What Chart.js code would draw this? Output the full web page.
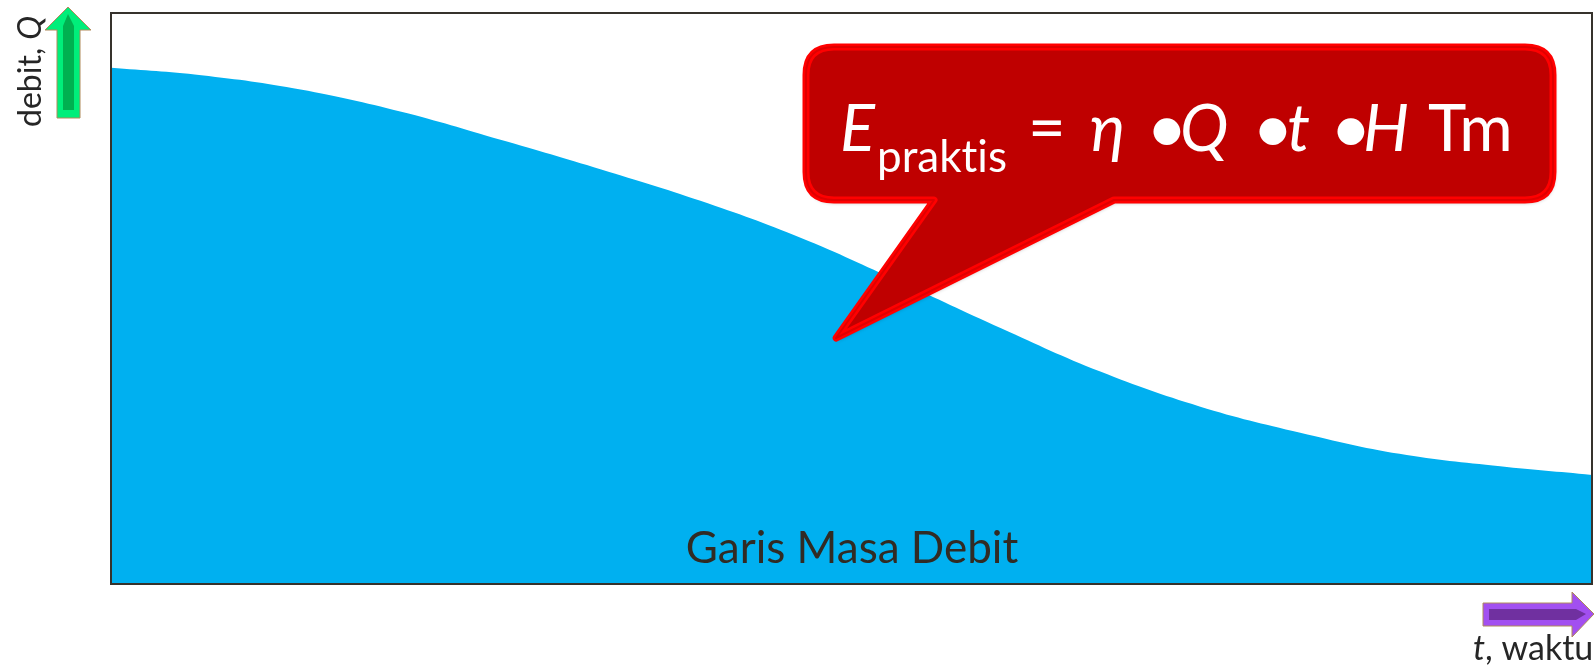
<!DOCTYPE html>
<html>
<head>
<meta charset="utf-8">
<script src="https://cdn.jsdelivr.net/npm/chart.js@4"></script>
<style>
  html, body { margin: 0; padding: 0; background: #fff; }
  #debitChart { display: block; }
</style>
</head>
<body>
<canvas id="debitChart" width="1595" height="672"></canvas>
<script>
// time axis (percent of period) and discharge
const timePoints = [0, 6.1, 12.8, 19.6, 26.3, 33.1, 39.8, 46.6, 53.3, 60.1, 66.8, 73.5, 80.3, 87.0, 93.8, 100];
const debitValues = [90.4, 89.1, 86.6, 82.7, 77.8, 72.6, 67.1, 60.6, 52.9, 44.8, 37.2, 31.1, 26.5, 22.8, 20.6, 19.1];
const yAxisLabel = 'debit, ';
const yAxisSymbol = 'Q';
const xAxisSymbol = 't';
const xAxisLabel = ', waktu';
const areaLabel = 'Garis Masa Debit';

const FONT = 'Lato, "Open Sans", sans-serif';

function roundedCallout(ctx) {
    const l = 806, t = 47, r = 1553, b = 200, rad = 28;
    ctx.beginPath();
    ctx.moveTo(l + rad, t);
    ctx.lineTo(r - rad, t);
    ctx.quadraticCurveTo(r, t, r, t + rad);
    ctx.lineTo(r, b - rad);
    ctx.quadraticCurveTo(r, b, r - rad, b);
    ctx.lineTo(1114, b);
    ctx.lineTo(836, 338);
    ctx.lineTo(934, b);
    ctx.lineTo(l + rad, b);
    ctx.quadraticCurveTo(l, b, l, b - rad);
    ctx.lineTo(l, t + rad);
    ctx.quadraticCurveTo(l, t, l + rad, t);
    ctx.closePath();
}

const decorations = {
    id: 'decorations',
    afterDraw(chart) {
        const ctx = chart.ctx;
        const area = chart.chartArea;
        ctx.save();

        // frame round the plot
        ctx.strokeStyle = '#36322c';
        ctx.lineWidth = 2;
        ctx.strokeRect(area.left, area.top, area.right - area.left, area.bottom - area.top);

        // green up arrow
        ctx.beginPath();
        ctx.moveTo(68, 7); ctx.lineTo(91, 30); ctx.lineTo(80, 30); ctx.lineTo(80, 118);
        ctx.lineTo(57, 118); ctx.lineTo(57, 30); ctx.lineTo(45, 30); ctx.closePath();
        ctx.fillStyle = '#00ee7a';
        ctx.fill();
        ctx.strokeStyle = '#b08a5a';
        ctx.lineWidth = 1;
        ctx.stroke();
        ctx.beginPath();
        ctx.moveTo(68, 14); ctx.lineTo(74, 26); ctx.lineTo(74, 110); ctx.lineTo(63, 110); ctx.lineTo(63, 26); ctx.closePath();
        ctx.fillStyle = '#00b050';
        ctx.fill();

        // purple right arrow
        ctx.beginPath();
        ctx.moveTo(1483, 603); ctx.lineTo(1572, 603); ctx.lineTo(1572, 592); ctx.lineTo(1594, 614);
        ctx.lineTo(1572, 637); ctx.lineTo(1572, 626); ctx.lineTo(1483, 626); ctx.closePath();
        ctx.fillStyle = '#a24ff0';
        ctx.fill();
        ctx.strokeStyle = '#b08a5a';
        ctx.stroke();
        ctx.beginPath();
        ctx.moveTo(1489, 609); ctx.lineTo(1576, 609); ctx.lineTo(1586, 614); ctx.lineTo(1576, 620); ctx.lineTo(1489, 620); ctx.closePath();
        ctx.fillStyle = '#7030a0';
        ctx.fill();

        // axis texts
        ctx.fillStyle = '#262626';
        ctx.textBaseline = 'alphabetic';
        ctx.save();
        ctx.translate(41, 127);
        ctx.rotate(-Math.PI / 2);
        ctx.font = '32px ' + FONT;
        ctx.fillText(yAxisLabel, 0, 0);
        const w1 = ctx.measureText(yAxisLabel).width;
        ctx.font = 'italic 32px ' + FONT;
        ctx.fillText(yAxisSymbol, w1, 0);
        ctx.restore();

        ctx.font = 'italic 34px ' + FONT;
        ctx.fillText(xAxisSymbol, 1473, 660);
        const w2 = ctx.measureText(xAxisSymbol).width;
        ctx.font = '34px ' + FONT;
        ctx.fillText(xAxisLabel, 1473 + w2, 660);

        // label inside the area
        ctx.fillStyle = '#312b24';
        ctx.font = '44px ' + FONT;
        ctx.textAlign = 'center';
        ctx.fillText(areaLabel, 852, 563);
        ctx.textAlign = 'left';

        // callout
        ctx.save();
        ctx.shadowColor = 'rgba(0,0,0,0.45)';
        ctx.shadowBlur = 4;
        ctx.shadowOffsetX = 1;
        ctx.shadowOffsetY = 2;
        roundedCallout(ctx);
        ctx.fillStyle = '#bf0000';
        ctx.fill();
        ctx.restore();
        roundedCallout(ctx);
        ctx.lineJoin = 'round';
        ctx.strokeStyle = '#ff0000';
        ctx.lineWidth = 7;
        ctx.stroke();
        roundedCallout(ctx);
        ctx.strokeStyle = '#e00000';
        ctx.lineWidth = 2;
        ctx.stroke();

        // formula
        ctx.fillStyle = '#ffffff';
        ctx.letterSpacing = '0.01px';
        const tokens = [
            ['E', 'italic 65px', 840, 151],
            ['praktis', '44px', 877, 172],
            ['=', '65px', 1028, 151],
            ['\u03b7', 'italic 65px', 1090, 151],
            ['\u2022', '72px', 1146, 153],
            ['Q', 'italic 65px', 1180, 151],
            ['\u2022', '72px', 1252, 153],
            ['t', 'italic 65px', 1287, 151],
            ['\u2022', '72px', 1330, 153],
            ['H', 'italic 65px', 1363, 151],
            ['Tm', '65px', 1428, 151]
        ];
        tokens.forEach(([txt, f, x, y]) => {
            ctx.font = f + ' ' + FONT;
            ctx.fillText(txt, x, y);
        });

        ctx.restore();
    }
};

const ctx = document.getElementById('debitChart').getContext('2d');
new Chart(ctx, {
    type: 'line',
    data: {
        datasets: [{
            label: areaLabel,
            data: timePoints.map((t, i) => ({ x: t, y: debitValues[i] })),
            backgroundColor: '#00b0f0',
            borderWidth: 0,
            pointRadius: 0,
            fill: 'origin',
            tension: 0.4
        }]
    },
    options: {
        responsive: false,
        devicePixelRatio: 1,
        animation: false,
        layout: { padding: { left: 111, top: 13, right: 3, bottom: 88 } },
        plugins: { legend: { display: false }, tooltip: { enabled: false } },
        scales: {
            x: { type: 'linear', min: 0, max: 100, display: false },
            y: { min: 0, max: 100, display: false }
        }
    },
    plugins: [decorations]
});
</script>
</body>
</html>
